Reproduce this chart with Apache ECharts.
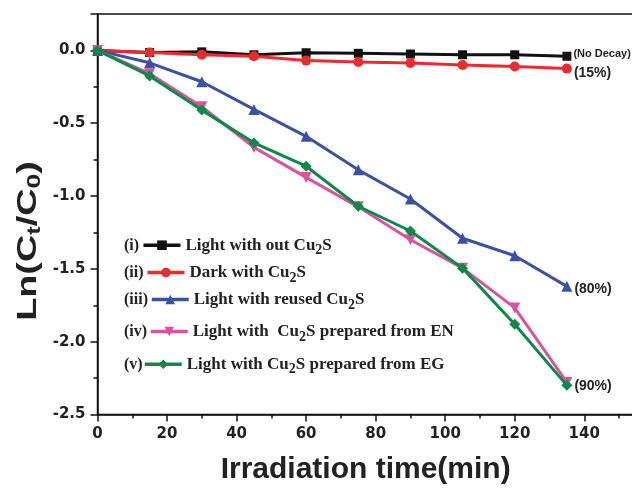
<!DOCTYPE html>
<html><head><meta charset="utf-8">
<script src="https://cdn.jsdelivr.net/npm/echarts@6/dist/echarts.min.js"></script>
<style>html,body{margin:0;padding:0;background:#fff}#c{width:632px;height:488px}</style>
</head><body><div id="c"></div>
<script>
// ---- data ----
const times = [0, 15, 30, 45, 60, 75, 90, 105, 120, 135];
const lightNoCu2S = [0, -0.014, -0.01, -0.03, -0.016, -0.02, -0.025, -0.03, -0.03, -0.04];
const darkCu2S    = [0, -0.014, -0.03, -0.04, -0.07, -0.08, -0.087, -0.10, -0.11, -0.125];
const reusedCu2S  = [0, -0.085, -0.215, -0.405, -0.59, -0.82, -1.02, -1.29, -1.41, -1.62];
const cu2sEN      = [0, -0.16, -0.387, -0.666, -0.872, -1.074, -1.30, -1.495, -1.768, -2.28];
const cu2sEG      = [0, -0.175, -0.41, -0.635, -0.795, -1.07, -1.24, -1.495, -1.88, -2.30];
const seriesNames = ['Light with out Cu2S', 'Dark with Cu2S', 'Light with reused Cu2S',
                     'Light with  Cu2S prepared from EN', 'Light with Cu2S prepared from EG'];
const romanLabels = ['(i)', '(ii)', '(iii)', '(iv)', '(v)'];
const endLabels = ['(No Decay)', '(15%)', '(80%)', '', '(90%)'];
const xTitle = 'Irradiation time(min)';
const yTitleRich = '{m|Ln(C}{t|t}{m|/C}{z|0}{m|)}';

// ---- styles ----
const colors = ['#111111', '#ee2a2e', '#3b52a4', '#d9539f', '#0a8a46'];
const symbols = ['rect', 'circle', 'triangle', 'triangle', 'diamond'];
const symbolSizes = [9, 10, 11, 11, 11];
const symbolRotates = [0, 0, 0, 180, 0];
const endLabelSize = [11, 14, 14, 14, 14];
const endLabelOffset = [[0, -2], [0, 5], [0, 3], [0, 0], [0, 1]];
const legendLeft = [141.7, 145.7, 150, 149, 143];
const legendCenterY = [242.7, 270, 297, 329, 361.7];

const allValues = [lightNoCu2S, darkCu2S, reusedCu2S, cu2sEN, cu2sEG];

function subFmt(name) {
  const parts = name.split('Cu2S');
  return parts.map(p => '{a|' + p + '}').join('{a|Cu}{s|2}{a|S}');
}

const series = allValues.map((vals, si) => ({
  name: seriesNames[si],
  type: 'line',
  symbol: symbols[si],
  symbolSize: symbolSizes[si],
  symbolRotate: symbolRotates[si],
  showAllSymbol: true,
  color: colors[si],
  lineStyle: { width: 3, color: colors[si] },
  itemStyle: { color: colors[si] },
  z: 2 + si,
  data: vals.map((v, i) => {
    const item = { value: [times[i], v] };
    if (i === vals.length - 1 && endLabels[si]) {
      item.label = {
        show: true, position: 'right', distance: 2,
        formatter: endLabels[si],
        offset: endLabelOffset[si],
        fontFamily: 'Liberation Sans', fontWeight: 'bold',
        fontSize: endLabelSize[si], color: '#222'
      };
    }
    return item;
  })
}));

const legends = seriesNames.map((n, i) => ({
  data: [n],
  left: legendLeft[i],
  top: legendCenterY[i] - 10,
  padding: 0,
  itemWidth: 37,
  itemHeight: 12,
  selectedMode: false,
  lineStyle: { width: 3.5 },
  formatter: subFmt,
  textStyle: {
    color: '#222',
    rich: {
      a: { fontFamily: 'Liberation Serif', fontWeight: 'bold', fontSize: 17, lineHeight: 20, color: '#222' },
      s: { fontFamily: 'Liberation Serif', fontWeight: 'bold', fontSize: 14, lineHeight: 10, padding: [11, 0, 0, 0], color: '#222' }
    }
  }
}));

const graphics = romanLabels.map((r, i) => ({
  type: 'text',
  x: 124,
  y: legendCenterY[i] + 3,
  style: { text: r, font: 'bold 16px "Liberation Serif"', fill: '#222', align: 'left', verticalAlign: 'middle' }
}));
graphics.push({
  type: 'text',
  x: 29, y: 241,
  rotation: Math.PI / 2,
  scaleX: 1.4,
  style: {
    text: yTitleRich, align: 'center', verticalAlign: 'middle', fill: '#222',
    rich: {
      m: { fontFamily: 'Liberation Sans', fontWeight: 'bold', fontSize: 27, lineHeight: 32, fill: '#222' },
      t: { fontFamily: 'Liberation Sans', fontWeight: 'bold', fontSize: 18, lineHeight: 20, padding: [12, 0, 0, 0], fill: '#222' },
      z: { fontFamily: 'Liberation Sans', fontWeight: 'bold', fontSize: 19, lineHeight: 20, padding: [12, 0, 0, 0], fill: '#222' }
    }
  }
});

const chart = echarts.init(document.getElementById('c'), null, { renderer: 'canvas' });
chart.setOption({
  animation: false,
  backgroundColor: '#fff',
  grid: { left: 97.5, top: 14, right: -21.8, bottom: 73.5, outerBoundsMode: 'none', containLabel: false,
          show: true, borderColor: '#111', borderWidth: 1.5 },
  xAxis: {
    type: 'value', min: 0, max: 160, interval: 20,
    name: xTitle, nameLocation: 'middle', nameGap: 40,
    nameTextStyle: { fontFamily: 'Liberation Sans', fontWeight: 'bold', fontSize: 30, color: '#222', padding: [0, 20, 0, 0] },
    axisLine: { show: true, onZero: false, lineStyle: { color: '#111', width: 1.5 } },
    axisTick: { show: true, inside: false, length: 7, lineStyle: { color: '#111', width: 1.5 } },
    minorTick: { show: true, splitNumber: 2, length: 4, lineStyle: { color: '#111', width: 1.5 } },
    splitLine: { show: false },
    axisLabel: { margin: 12, fontFamily: 'DejaVu Sans', fontWeight: 'bold', fontSize: 15, color: '#222', showMaxLabel: false }
  },
  yAxis: {
    type: 'value', min: -2.5, max: 0.25, interval: 0.5,
    axisLine: { show: true, onZero: false, lineStyle: { color: '#111', width: 1.5 } },
    axisTick: { show: true, inside: false, length: 7, lineStyle: { color: '#111', width: 1.5 } },
    minorTick: { show: true, splitNumber: 2, length: 4, lineStyle: { color: '#111', width: 1.5 } },
    splitLine: { show: false },
    axisLabel: { margin: 12, fontFamily: 'DejaVu Sans', fontWeight: 'bold', fontSize: 15, color: '#222',
                 showMaxLabel: false, formatter: v => v.toFixed(1) }
  },
  legend: legends,
  graphic: graphics,
  series: series
});
</script></body></html>
